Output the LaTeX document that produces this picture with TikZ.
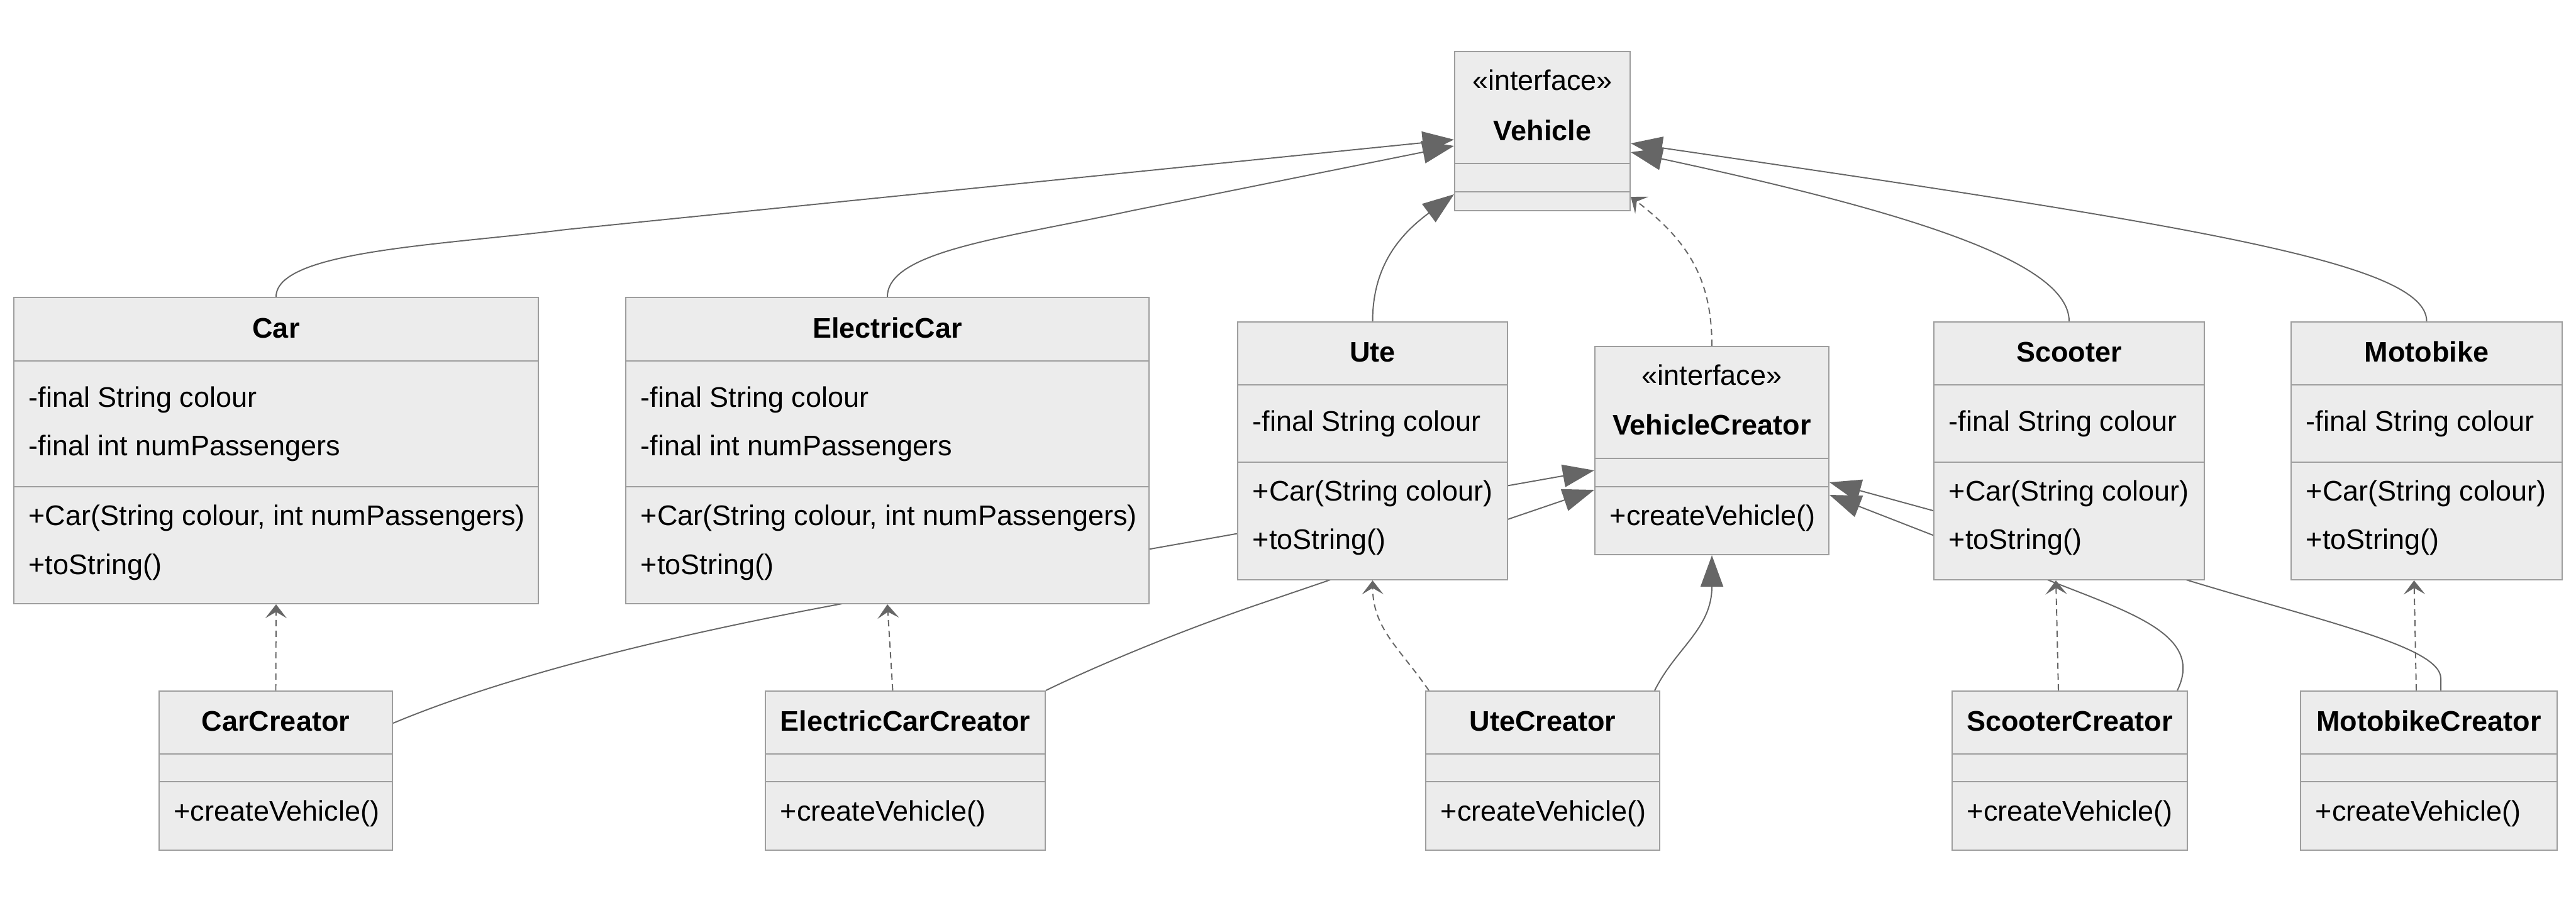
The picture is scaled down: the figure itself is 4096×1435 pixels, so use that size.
\documentclass[tikz,border=0pt]{standalone}
\usepackage{fontspec}
\setmainfont{Liberation Sans}
\usetikzlibrary{arrows.meta,backgrounds,fit}
\definecolor{boxfill}{HTML}{ECECEC}
\definecolor{boxedge}{HTML}{9E9E9E}
\definecolor{linkgray}{HTML}{666666}
\newcommand{\umlfont}{\fontsize{12.8pt}{15pt}\selectfont}
\tikzset{
    classbox/.style = {draw=boxedge, fill=boxfill, line width=0.6pt, inner sep=0pt},
    divider/.style = {draw=boxedge, line width=0.6pt},
    classname/.style = {anchor=base, inner sep=0pt, font=\umlfont\bfseries},
    stereo/.style = {anchor=base, inner sep=0pt, font=\umlfont},
    member/.style = {anchor=base west, inner sep=0pt, font=\umlfont},
    extendsline/.style = {draw=linkgray, line width=0.55pt, -{Triangle[length=0.5cm,width=0.36cm]}},
    dependsline/.style = {draw=linkgray, line width=0.55pt, dash pattern=on 0.1cm off 0.07cm,
        -{Stealth[length=0.22cm,width=0.34cm,inset=0.1cm]}}
}
\newcommand{\umlbox}[7]{%
    \node[classbox, fit={(#2,#3) (#4,#5)}] (#1) {};
    \draw[divider] (#2,#6) -- (#4,#6) (#2,#7) -- (#4,#7);
}

\begin{document}
\begin{tikzpicture}[x=0.01cm, y=-0.01cm]
    \useasboundingbox (0,0) rectangle (4096,1435);
    \umlbox{vehicle}{2313}{82}{2592}{335}{260}{305}
    \umlbox{car}{22}{473}{856}{960}{574}{774}
    \umlbox{ecar}{995}{473}{1827}{960}{574}{774}
    \umlbox{ute}{1968}{512}{2397}{922}{612}{735}
    \umlbox{vcreator}{2536}{551}{2908}{882}{729}{774}
    \umlbox{scooter}{3075}{512}{3505}{922}{612}{735}
    \umlbox{motobike}{3643}{512}{4074}{922}{612}{735}
    \umlbox{ccreator}{253}{1099}{624}{1352}{1199}{1243}
    \umlbox{eccreator}{1217}{1099}{1662}{1352}{1199}{1243}
    \umlbox{ucreator}{2267}{1099}{2639}{1352}{1199}{1243}
    \umlbox{screator}{3104}{1099}{3478}{1352}{1199}{1243}
    \umlbox{mcreator}{3658}{1099}{4066}{1352}{1199}{1243}

    \node[stereo] (vehicle-s) at (vehicle.north |- 0,143) {«interface»};
    \node[classname] (vehicle-t) at (vehicle.north |- 0,223) {Vehicle};

    \node[classname] (car-t) at (car.north |- 0,537) {Car};
    \node[member] (car-a1) at (45,647) {-final String colour};
    \node[member] (car-a2) at (45,724) {-final int numPassengers};
    \node[member] (car-m1) at (45,835) {+Car(String colour, int numPassengers)};
    \node[member] (car-m2) at (45,913) {+toString()};

    \node[classname] (ecar-t) at (ecar.north |- 0,537) {ElectricCar};
    \node[member] (ecar-a1) at (1018,647) {-final String colour};
    \node[member] (ecar-a2) at (1018,724) {-final int numPassengers};
    \node[member] (ecar-m1) at (1018,835) {+Car(String colour, int numPassengers)};
    \node[member] (ecar-m2) at (1018,913) {+toString()};

    \node[classname] (ute-t) at (ute.north |- 0,575) {Ute};
    \node[member] (ute-a1) at (1991,685) {-final String colour};
    \node[member] (ute-m1) at (1991,796) {+Car(String colour)};
    \node[member] (ute-m2) at (1991,873) {+toString()};

    \node[stereo] (vcreator-s) at (vcreator.north |- 0,612) {«interface»};
    \node[classname] (vcreator-t) at (vcreator.north |- 0,691) {VehicleCreator};
    \node[member] (vcreator-m1) at (2559,835) {+createVehicle()};

    \node[classname] (scooter-t) at (scooter.north |- 0,575) {Scooter};
    \node[member] (scooter-a1) at (3098,685) {-final String colour};
    \node[member] (scooter-m1) at (3098,796) {+Car(String colour)};
    \node[member] (scooter-m2) at (3098,873) {+toString()};

    \node[classname] (motobike-t) at (motobike.north |- 0,575) {Motobike};
    \node[member] (motobike-a1) at (3666,685) {-final String colour};
    \node[member] (motobike-m1) at (3666,796) {+Car(String colour)};
    \node[member] (motobike-m2) at (3666,873) {+toString()};

    \node[classname] (ccreator-t) at (ccreator.north |- 0,1162) {CarCreator};
    \node[member] (ccreator-m1) at (276,1305) {+createVehicle()};
    \node[classname] (eccreator-t) at (eccreator.north |- 0,1162) {ElectricCarCreator};
    \node[member] (eccreator-m1) at (1240,1305) {+createVehicle()};
    \node[classname] (ucreator-t) at (ucreator.north |- 0,1162) {UteCreator};
    \node[member] (ucreator-m1) at (2290,1305) {+createVehicle()};
    \node[classname] (screator-t) at (screator.north |- 0,1162) {ScooterCreator};
    \node[member] (screator-m1) at (3127,1305) {+createVehicle()};
    \node[classname] (mcreator-t) at (mcreator.north |- 0,1162) {MotobikeCreator};
    \node[member] (mcreator-m1) at (3681,1305) {+createVehicle()};

    \begin{scope}[on background layer]
        \fill[white] (0,0) rectangle (4096,1435);
        \draw[extendsline] (car.north) .. controls +(0,-73) and (700,390) .. (900,365) -- (vehicle.west |- 0,222);
        \draw[extendsline] (ecar.north) .. controls +(0,-73) and (1600,378) .. (1800,335) -- (vehicle.west |- 0,232);
        \draw[extendsline] (ute.north) .. controls +(0,-92) and (2230,370) .. (vehicle.west |- 0,309);
        \draw[extendsline] (scooter.north) .. controls +(0,-92) and (3050,340) .. (vehicle.east |- 0,242);
        \draw[extendsline] (motobike.north) .. controls +(0,-92) and (3500,360) .. (vehicle.east |- 0,228);
        \draw[dependsline] (vcreator.north) .. controls +(0,-111) and (2680,380) .. (vehicle.east |- 0,313);

        \draw[extendsline] (ccreator.east |- 0,1150) .. controls (816,1070) and (1100,1002) .. (1400,949) -- (vcreator.west |- 0,748);
        \draw[extendsline] (eccreator.north east) .. controls (1720,1070) and (1854,1011) .. (2004,960) -- (vcreator.west |- 0,779);
        \draw[extendsline] ([xshift=-0.09cm]ucreator.north east) .. controls (2665,1030) and (2722,1000) .. (vcreator.south);
        \draw[extendsline] ([xshift=-0.17cm]screator.north east) .. controls (3505,1010) and (3390,975) .. (3253,921) -- (vcreator.east |- 0,787);
        \draw[extendsline] ([xshift=0.19cm]mcreator.north) -- ++(0,-19) .. controls +(0,-50) and (3700,990) .. (3476,922) -- (vcreator.east |- 0,767);

        \draw[dependsline] (ccreator.north) -- (car.south);
        \draw[dependsline] ([xshift=-0.2cm]eccreator.north) -- (ecar.south);
        \draw[dependsline] ([xshift=0.06cm]ucreator.north west) .. controls (2225,1030) and (2183,1000) .. (ute.south);
        \draw[dependsline] ([xshift=-0.18cm]screator.north) -- ([xshift=-0.21cm]scooter.south);
        \draw[dependsline] ([xshift=-0.2cm]mcreator.north) -- ([xshift=-0.2cm]motobike.south);
    \end{scope}
\end{tikzpicture}
\end{document}
